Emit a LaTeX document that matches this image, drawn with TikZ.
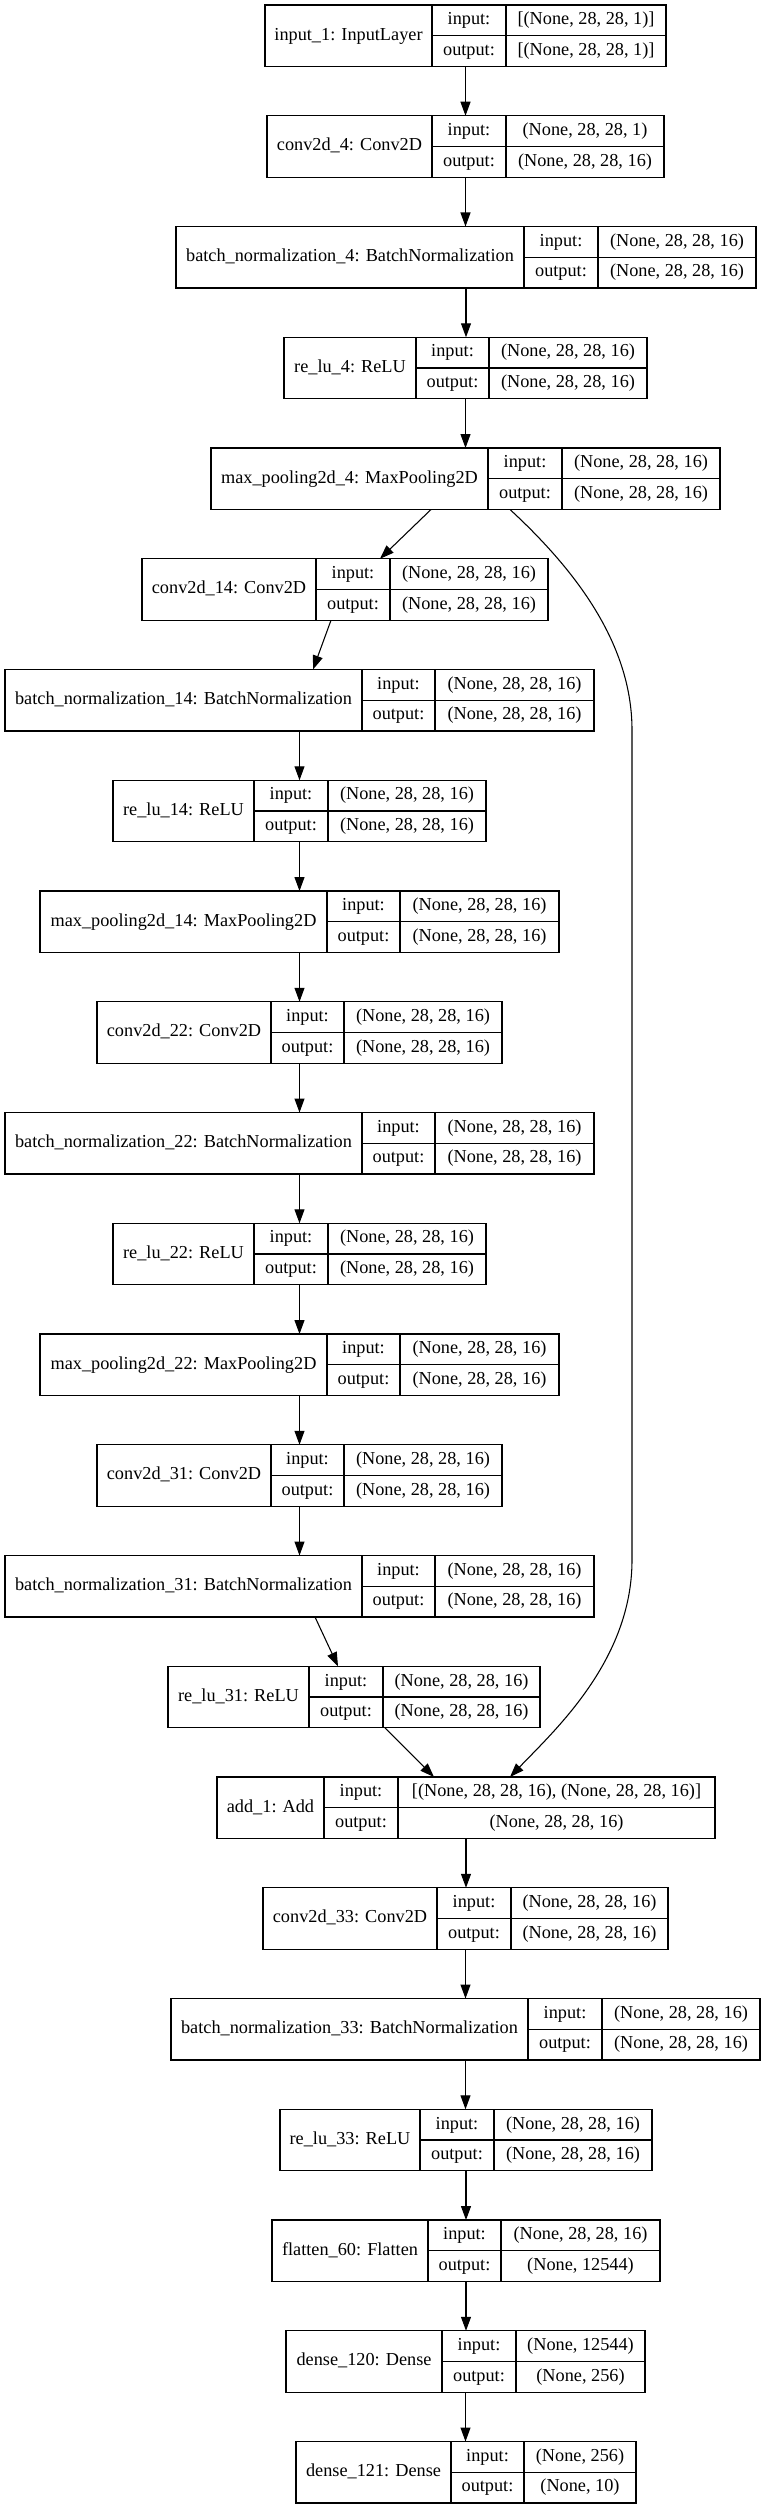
\documentclass[tikz,border=0pt]{standalone}
\usepackage{fontspec}
\setmainfont{Liberation Serif}
\usetikzlibrary{arrows.meta,calc}

% one keras record: id, row, left, split1, split2, right, name, input, output
\newcommand{\layer}[9]{%
  \pgfmathsetmacro{\ytop}{5+110.75*#2}
  \pgfmathsetmacro{\ymid}{\ytop+30.75}
  \pgfmathsetmacro{\ybot}{\ytop+61.5}
  \node[box,minimum width={(#6-#3)*0.75pt},anchor=north west] (#1) at (#3,\ytop) {};
  \draw[rule] (#4,\ytop) -- (#4,\ybot) (#5,\ytop) -- (#5,\ybot) (#4,\ymid) -- (#6,\ymid);
  \node[lbl] (#1-name) at ({(#3+#4)/2},\ymid) {#7};
  \node[lbl] (#1-in) at ({(#4+#5)/2},{\ytop+15.4}) {input:};
  \node[lbl] (#1-out) at ({(#4+#5)/2},{\ytop+46.1}) {output:};
  \node[lbl] (#1-inval) at ({(#5+#6)/2},{\ytop+15.4}) {#8};
  \node[lbl] (#1-outval) at ({(#5+#6)/2},{\ytop+46.1}) {#9};
}
\newcommand{\shp}{(None, 28, 28, 16)}

\begin{document}
\begin{tikzpicture}[x=0.75pt,y=-0.75pt,
    box/.style={draw,line width=0.8pt,inner sep=0pt,outer sep=0pt,minimum height=46.125pt},
    rule/.style={line width=0.8pt},
    lbl/.style={inner sep=0pt,font=\fontsize{13.7}{16}\selectfont,text height=9.5pt,text depth=3pt},
    link/.style={line width=0.8pt,-{Triangle[length=10.5pt,width=7.5pt]}}]
  \useasboundingbox[fill=white] (0,0) rectangle (761,2508);

  \layer{in1}{0}{265}{432}{506}{666}{input\_1: InputLayer}{[(None, 28, 28, 1)]}{[(None, 28, 28, 1)]}
  \layer{c4}{1}{267}{432}{506}{664}{conv2d\_4: Conv2D}{(None, 28, 28, 1)}{\shp}
  \layer{bn4}{2}{176}{524}{598}{756}{batch\_normalization\_4: BatchNormalization}{\shp}{\shp}
  \layer{r4}{3}{284}{416}{489}{647}{re\_lu\_4: ReLU}{\shp}{\shp}
  \layer{mp4}{4}{211}{488}{562}{720}{max\_pooling2d\_4: MaxPooling2D}{\shp}{\shp}
  \layer{c14}{5}{142}{316}{390}{548}{conv2d\_14: Conv2D}{\shp}{\shp}
  \layer{bn14}{6}{5}{362}{435}{594}{batch\_normalization\_14: BatchNormalization}{\shp}{\shp}
  \layer{r14}{7}{113}{254}{328}{486}{re\_lu\_14: ReLU}{\shp}{\shp}
  \layer{mp14}{8}{40}{327}{400}{559}{max\_pooling2d\_14: MaxPooling2D}{\shp}{\shp}
  \layer{c22}{9}{97}{271}{344}{502}{conv2d\_22: Conv2D}{\shp}{\shp}
  \layer{bn22}{10}{5}{362}{435}{594}{batch\_normalization\_22: BatchNormalization}{\shp}{\shp}
  \layer{r22}{11}{113}{254}{328}{486}{re\_lu\_22: ReLU}{\shp}{\shp}
  \layer{mp22}{12}{40}{327}{400}{559}{max\_pooling2d\_22: MaxPooling2D}{\shp}{\shp}
  \layer{c31}{13}{97}{271}{344}{502}{conv2d\_31: Conv2D}{\shp}{\shp}
  \layer{bn31}{14}{5}{362}{435}{594}{batch\_normalization\_31: BatchNormalization}{\shp}{\shp}
  \layer{r31}{15}{168}{309}{383}{540}{re\_lu\_31: ReLU}{\shp}{\shp}
  \layer{add1}{16}{217}{324}{398}{715}{add\_1: Add}{[(None, 28, 28, 16), (None, 28, 28, 16)]}{\shp}
  \layer{c33}{17}{263}{437}{511}{668}{conv2d\_33: Conv2D}{\shp}{\shp}
  \layer{bn33}{18}{171}{528}{602}{760}{batch\_normalization\_33: BatchNormalization}{\shp}{\shp}
  \layer{r33}{19}{280}{420}{494}{652}{re\_lu\_33: ReLU}{\shp}{\shp}
  \layer{fl60}{20}{272}{428}{501}{660}{flatten\_60: Flatten}{\shp}{(None, 12544)}
  \layer{d120}{21}{286}{442}{516}{645}{dense\_120: Dense}{(None, 12544)}{(None, 256)}
  \layer{d121}{22}{296}{451}{524}{636}{dense\_121: Dense}{(None, 256)}{(None, 10)}

  % straight edges
  \foreach \a/\b in {in1/c4,c4/bn4,bn4/r4,r4/mp4,bn14/r14,r14/mp14,mp14/c22,c22/bn22,
      bn22/r22,r22/mp22,mp22/c31,c31/bn31,add1/c33,c33/bn33,bn33/r33,r33/fl60,fl60/d120,d120/d121}
    \draw[link] (\a.south) -- (\a.south |- \b.north);
  % slanted edges
  \draw[link] ($(mp4.south)+(-34.5,0)$) -- ($(c14.north)+(35,0)$);
  \draw[link] ($(c14.south)+(-14,0)$) -- ($(bn14.north)+(13.5,0)$);
  \draw[link] ($(bn31.south)+(15.5,0)$) -- ($(r31.north)+(-16,0)$);
  \draw[link] ($(r31.south)+(31,0)$) -- ($(add1.north)+(-32,0)$);
  % skip connection
  \draw[link] ($(mp4.south)+(44.5,0)$) .. controls (570,565) and (632,640) .. (632,730)
    -- (632,1560) .. controls (632,1660) and (555,1730) .. ($(add1.north)+(44,0)$);
\end{tikzpicture}
\end{document}
